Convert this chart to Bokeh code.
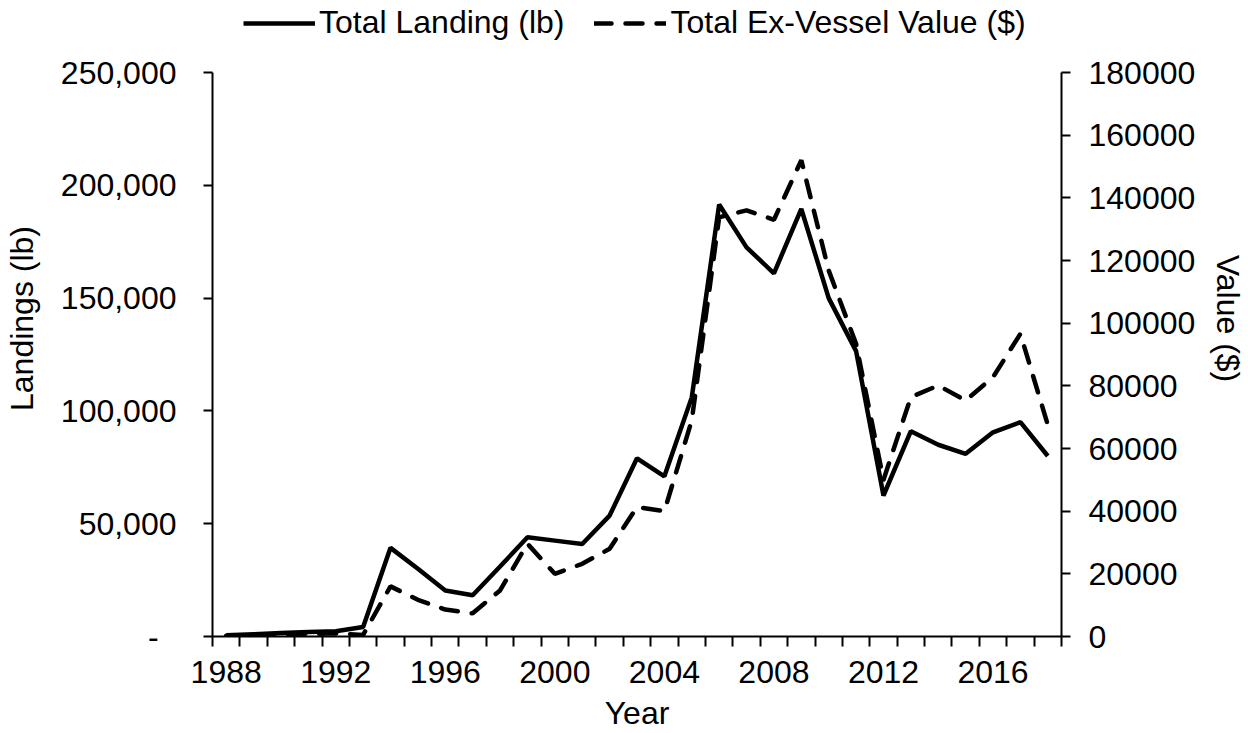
from bokeh.plotting import figure
from bokeh.models import (Range1d, LinearAxis, FixedTicker, Legend, LegendItem)
from bokeh.embed import file_html
from bokeh.resources import INLINE

years = list(range(1988, 2019))
landings = [500, 1000, 1500, 2000, 2300, 4200, 39300, 30000, 20400, 18300, 31000,
            44000, 42500, 41000, 53600, 79000, 71000, 106000, 191500, 172500, 161000,
            189500, 150000, 126500, 62500, 91000, 85000, 81000, 90500, 95000, 80000]
ex_vessel_value = [200, 400, 600, 800, 1000, 500, 16000, 11700, 8600, 7400, 14700,
                   29600, 20000, 23200, 28000, 41300, 40000, 69000, 133800, 136000, 133000,
                   152000, 116800, 93400, 50000, 76400, 80100, 75300, 82800, 96600, 67500]

x_tick_years = [1988, 1992, 1996, 2000, 2004, 2008, 2012, 2016]
left_ticks = [0, 50000, 100000, 150000, 200000, 250000]
left_tick_labels = ["-\u00a0\u00a0", "50,000", "100,000", "150,000", "200,000", "250,000"]
right_ticks = [0, 20000, 40000, 60000, 80000, 100000, 120000, 140000, 160000, 180000]
right_tick_labels = ["0", "20000", "40000", "60000", "80000", "100000", "120000",
                     "140000", "160000", "180000"]

FONT = "Liberation Sans"
FS = "32px"

AXIS_H = 564          # pixel height of the axis span
TOP_PAD = 72          # room above the axes for the legend
FRAME_H = AXIS_H + TOP_PAD
LEFT_MAX = 250000
RIGHT_MAX = 180000

p = figure(frame_width=849, frame_height=FRAME_H, output_backend="svg", toolbar_location=None,
           x_range=Range1d(years[0] - 0.5, years[-1] + 0.5),
           y_range=Range1d(0, LEFT_MAX * FRAME_H / AXIS_H))
p.min_border_left = 212
p.min_border_right = 185
p.min_border_top = 0
p.min_border_bottom = 95
p.outline_line_color = None
p.xgrid.grid_line_color = None
p.ygrid.grid_line_color = None
p.background_fill_color = "white"
p.border_fill_color = "white"

p.extra_y_ranges = {"value": Range1d(0, RIGHT_MAX * FRAME_H / AXIS_H)}

r1 = p.line(years, landings, line_color="black", line_width=4.5)
r2 = p.line(years, ex_vessel_value, line_color="black", line_width=4.5, line_dash="17 14",
            line_cap="round", y_range_name="value")

# x axis
xa = p.xaxis[0]
xa.ticker = FixedTicker(ticks=x_tick_years,
                        minor_ticks=[y - 0.5 for y in years] + [years[-1] + 0.5])
xa.major_tick_out = 0
xa.major_tick_in = 0
xa.minor_tick_out = 10
xa.minor_tick_in = 0
xa.minor_tick_line_color = "black"
xa.minor_tick_line_width = 2
xa.axis_line_width = 2
xa.axis_line_color = "black"
xa.axis_label = "Year"
xa.major_label_standoff = 14

# left axis
ya = p.yaxis[0]
ya.ticker = FixedTicker(ticks=left_ticks)
ya.bounds = (0, LEFT_MAX)
ya.major_label_overrides = {t: l for t, l in zip(left_ticks, left_tick_labels)}
ya.minor_tick_line_color = None
ya.major_tick_out = 9
ya.major_tick_in = 0
ya.major_tick_line_width = 2
ya.axis_line_width = 2
ya.axis_line_color = "black"
ya.axis_label = "Landings (lb)"
ya.major_label_standoff = 27

# right axis
ra = LinearAxis(y_range_name="value", ticker=FixedTicker(ticks=right_ticks),
                bounds=(0, RIGHT_MAX))
ra.major_label_overrides = {t: l for t, l in zip(right_ticks, right_tick_labels)}
ra.minor_tick_line_color = None
ra.major_tick_out = 9
ra.major_tick_in = 0
ra.major_tick_line_width = 2
ra.axis_line_width = 2
ra.axis_line_color = "black"
ra.axis_label = "Value ($)"
ra.major_label_standoff = 18
p.add_layout(ra, "right")

for ax in (xa, ya, ra):
    ax.major_label_text_font = FONT
    ax.major_label_text_font_size = FS
    ax.major_label_text_color = "black"
    ax.axis_label_text_font = FONT
    ax.axis_label_text_font_size = FS
    ax.axis_label_text_font_style = "normal"
    ax.axis_label_text_color = "black"
    ax.major_tick_line_color = "black"

xa.axis_label_standoff = 9
ya.axis_label_standoff = 18
ra.axis_label_standoff = 12

legend = Legend(items=[LegendItem(label="Total Landing (lb)", renderers=[r1]),
                       LegendItem(label="Total Ex-Vessel Value ($)", renderers=[r2])],
                orientation="horizontal", location=(31, FRAME_H - 41))
legend.label_text_font = FONT
legend.label_text_font_size = FS
legend.label_text_color = "black"
legend.glyph_width = 72
legend.glyph_height = 30
legend.label_height = 30
legend.label_standoff = 4
legend.spacing = 30
legend.padding = 0
legend.margin = 0
legend.border_line_color = None
legend.background_fill_alpha = 0
p.add_layout(legend, "center")

open("out.html", "w").write(file_html(p, INLINE))
